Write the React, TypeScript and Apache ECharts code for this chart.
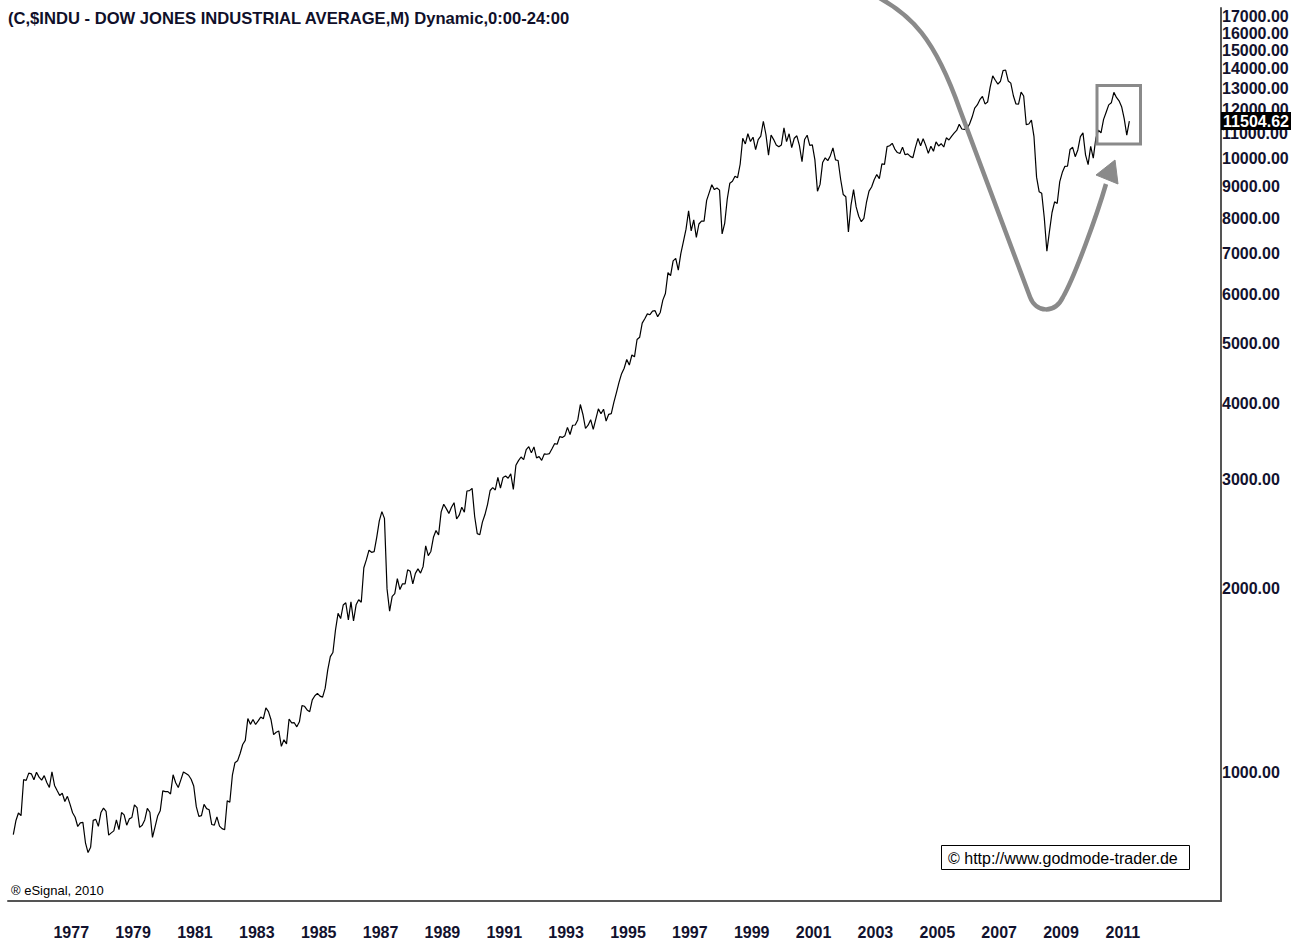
import React, { useEffect, useRef } from "react";
import * as echarts from "echarts";

// Monthly closes of the Dow Jones Industrial Average, starting September 1975
const closes1975to1984 = [
  793.88, 836.04, 860.67, 852.41,
  975.28, 972.61, 999.45, 996.85, 975.23, 1002.78, 984.64, 973.74, 990.19, 964.93, 947.22, 1004.65,
  954.37, 936.42, 919.13, 926.9, 898.66, 916.3, 890.07, 861.49, 847.11, 818.35, 829.7, 831.17,
  769.92, 742.12, 757.36, 837.32, 840.61, 818.95, 862.27, 876.82, 865.82, 792.45, 799.03, 805.01,
  839.22, 808.82, 862.18, 854.9, 822.33, 841.98, 846.42, 887.63, 878.58, 815.7, 822.35, 838.74,
  875.85, 863.14, 785.75, 817.06, 850.85, 867.92, 935.32, 932.59, 932.42, 924.49, 993.34, 963.99,
  947.27, 974.58, 1003.87, 997.75, 991.75, 976.88, 952.34, 881.47, 849.98, 852.55, 888.98, 875.0,
  871.1, 824.39, 822.77, 848.36, 819.54, 811.93, 808.6, 901.31, 896.25, 991.72, 1039.28, 1046.54,
  1075.7, 1112.62, 1130.03, 1226.2, 1199.98, 1221.96, 1199.22, 1215.7, 1233.13, 1225.2, 1276.02, 1258.64,
  1220.58, 1154.63, 1164.89, 1170.75, 1104.85, 1132.4, 1115.28, 1224.38, 1206.71, 1207.38, 1188.94, 1211.57,
];
const closes1985to1994 = [
  1286.77, 1284.01, 1266.78, 1258.06, 1315.41, 1335.46, 1347.45, 1334.01, 1328.63, 1374.31, 1472.13, 1546.67,
  1570.99, 1709.06, 1818.61, 1783.98, 1876.71, 1892.72, 1775.31, 1898.34, 1767.58, 1877.81, 1914.23, 1895.95,
  2158.04, 2223.99, 2304.69, 2286.36, 2291.57, 2418.53, 2572.07, 2662.95, 2596.28, 1993.53, 1833.55, 1938.83,
  1958.22, 2071.62, 1988.06, 2032.33, 2031.12, 2141.71, 2128.73, 2031.65, 2112.91, 2148.65, 2114.51, 2168.57,
  2342.32, 2258.39, 2293.62, 2418.8, 2480.15, 2440.06, 2660.66, 2737.27, 2692.82, 2645.08, 2706.27, 2753.2,
  2590.54, 2627.25, 2707.21, 2656.76, 2876.66, 2880.69, 2905.2, 2614.36, 2452.48, 2442.33, 2559.65, 2633.66,
  2736.39, 2882.18, 2913.86, 2887.87, 3027.5, 2906.75, 3024.82, 3043.6, 3016.77, 3069.1, 2894.68, 3168.83,
  3223.4, 3267.67, 3235.47, 3359.12, 3396.88, 3318.52, 3393.78, 3257.35, 3271.66, 3226.28, 3305.16, 3301.11,
  3310.03, 3370.81, 3435.11, 3427.55, 3527.43, 3516.08, 3539.47, 3651.25, 3555.12, 3680.59, 3683.95, 3754.09,
  3978.36, 3832.02, 3635.96, 3681.69, 3758.37, 3624.96, 3764.5, 3913.42, 3843.19, 3908.12, 3739.23, 3834.44,
];
const closes1995to2004 = [
  3843.86, 4011.05, 4157.69, 4321.27, 4465.14, 4556.1, 4708.47, 4610.56, 4789.08, 4755.48, 5074.49, 5117.12,
  5395.3, 5485.62, 5587.14, 5569.08, 5643.18, 5654.63, 5528.91, 5616.21, 5882.17, 6029.38, 6521.7, 6448.27,
  6813.09, 6877.74, 6583.48, 7008.99, 7331.04, 7672.79, 8222.61, 7622.42, 7945.26, 7442.08, 7823.13, 7908.25,
  7906.5, 8545.72, 8799.81, 9063.37, 8899.95, 8952.02, 8883.29, 7539.07, 7842.62, 8592.1, 9116.55, 9181.43,
  9358.83, 9306.58, 9786.16, 10789.04, 10559.74, 10970.8, 10655.15, 10829.28, 10336.95, 10729.94, 10877.81, 11497.12,
  10940.53, 10128.31, 10921.92, 10733.91, 10522.33, 10447.89, 10521.98, 11215.1, 10650.92, 10971.14, 10414.49, 10786.85,
  10887.36, 10495.28, 9878.78, 10734.97, 10911.94, 10502.4, 10522.81, 9949.75, 8847.56, 9075.14, 9851.56, 10021.5,
  9920.0, 10106.13, 10403.94, 9946.22, 9925.25, 9243.26, 8736.59, 8663.5, 7591.93, 8397.03, 8896.09, 8341.63,
  8053.81, 7891.08, 7992.13, 8480.09, 8850.26, 8985.44, 9233.8, 9415.82, 9275.06, 9801.12, 9782.46, 10453.92,
  10488.07, 10583.92, 10357.7, 10225.57, 10188.45, 10435.48, 10139.71, 10173.92, 10080.27, 10027.47, 10428.02, 10783.01,
];
const closes2005to2011 = [
  10489.94, 10766.23, 10503.76, 10192.51, 10467.48, 10274.97, 10640.91, 10481.6, 10568.7, 10440.07, 10805.87, 10717.5,
  10864.86, 10993.41, 11109.32, 11367.14, 11168.31, 11150.22, 11185.68, 11381.15, 11679.07, 12080.73, 12221.93, 12463.15,
  12621.69, 12268.63, 12354.35, 13062.91, 13627.64, 13408.62, 13211.99, 13357.74, 13895.63, 13930.01, 13371.72, 13264.82,
  12650.36, 12266.39, 12262.89, 12820.13, 12638.32, 11350.01, 11378.02, 11543.55, 10850.66, 9325.01, 8829.04, 8776.39,
  8000.86, 7062.93, 7608.92, 8168.12, 8500.33, 8447.0, 9171.61, 9496.28, 9712.28, 9712.73, 10344.84, 10428.05,
  10067.33, 10325.26, 10856.63, 11008.61, 10136.63, 9774.02, 10465.94, 10014.72, 10788.05, 11118.49, 11006.02, 11577.51,
  11891.93, 12226.34, 12319.73, 12810.54, 12569.79, 12414.34, 12143.24, 11613.53, 10913.38, 11504.62,
];

const startYear = 1975;
const startMonth = 9; // September

const xLabelYears = [1977, 1979, 1981, 1983, 1985, 1987, 1989, 1991, 1993, 1995, 1997, 1999, 2001, 2003, 2005, 2007, 2009, 2011];
const yTickValues = [1000, 2000, 3000, 4000, 5000, 6000, 7000, 8000, 9000, 10000, 11000, 12000, 13000, 14000, 15000, 16000, 17000];

const titleText = "(C,$INDU - DOW JONES INDUSTRIAL AVERAGE,M) Dynamic,0:00-24:00";
const FONT = '"Liberation Sans", Arial, sans-serif';
const LABEL_COLOR = "#12122e";

// Hand-drawn annotation curve (decoration, not data)
const curvePathD =
  "M872,-6 C912,14 935,39 960,110 L1030,297 C1036,313 1055,314 1063,297 C1075,276 1097,215 1106,184";
echarts.graphic.registerShape("annotCurve", echarts.graphic.extendPath(curvePathD, {}) as any);

export default function App() {
  const ref = useRef<HTMLDivElement>(null);
  useEffect(() => {
    if (!ref.current) return;
    const chart = echarts.init(ref.current, null, { renderer: "svg" });
    const closes = [...closes1975to1984, ...closes1985to1994, ...closes1995to2004, ...closes2005to2011];
    const tOf = (i: number) => startYear + (startMonth - 1) / 12 + i / 12;
    const lineData = closes.map((v, i) => [tOf(i), Math.log10(v)]);
    const lastIdx = closes.length - 1;
    const last = closes[lastIdx];

    chart.setOption({
      animation: false,
      backgroundColor: "#fff",
      title: {
        text: titleText,
        left: 8,
        top: 10,
        padding: 0,
        textStyle: { fontFamily: FONT, fontSize: 16.6, fontWeight: "bold", color: "#10102a" },
      },
      grid: { left: 8, right: 79, top: 8, bottom: 41 },
      xAxis: {
        type: "value",
        min: 1975.4955,
        max: 2014.713,
        axisLine: { show: true, onZero: false, lineStyle: { color: "#555", width: 2 } },
        axisTick: { show: false },
        splitLine: { show: false },
        axisLabel: {
          customValues: xLabelYears.map((y) => y + 0.54),
          formatter: (v: number) => String(Math.floor(v)),
          margin: 23,
          fontFamily: FONT,
          fontSize: 16,
          fontWeight: "bold",
          color: LABEL_COLOR,
          showMinLabel: true,
          showMaxLabel: true,
        },
      },
      yAxis: {
        type: "value",
        position: "right",
        min: 2.7917,
        max: 4.2449,
        axisLine: { show: true, onZero: false, lineStyle: { color: "#555", width: 2 } },
        axisTick: { show: false },
        splitLine: { show: false },
        axisLabel: {
          customValues: yTickValues.map((v) => Math.log10(v)),
          formatter: (v: number) => (Math.round(Math.pow(10, v))).toFixed(2),
          margin: 1,
          fontFamily: FONT,
          fontSize: 16,
          fontWeight: "bold",
          color: LABEL_COLOR,
          lineHeight: 13,
          padding: 0,
          hideOverlap: false,
          showMinLabel: true,
          showMaxLabel: true,
        },
      },
      series: [
        {
          type: "line",
          data: lineData,
          showSymbol: false,
          symbol: "none",
          lineStyle: { color: "#000", width: 1.2 },
          z: 3,
        },
        {
          type: "custom",
          data: [[tOf(lastIdx), Math.log10(last)]],
          z: 5,
          renderItem: (params: any, api: any) => {
            const p = api.coord([api.value(0), api.value(1)]);
            const cs = params.coordSys;
            const x0 = cs.x + cs.width;
            return {
              type: "group",
              children: [
                { type: "rect", shape: { x: x0, y: p[1] - 9, width: 70, height: 18 }, style: { fill: "#000" } },
                {
                  type: "text",
                  x: x0 + 35,
                  y: p[1] + 0.5,
                  style: {
                    text: last.toFixed(2),
                    fill: "#fff",
                    fontFamily: FONT,
                    fontSize: 16,
                    fontWeight: "bold",
                    align: "center",
                    verticalAlign: "middle",
                  },
                },
              ],
            };
          },
        },
      ],
      graphic: [
        {
          type: "annotCurve",
          silent: true,
          x: 0,
          y: 0,
          style: { stroke: "#8a8a8a", lineWidth: 4.5, fill: "none" },
          z: 10,
        },
        {
          type: "polygon",
          silent: true,
          shape: { points: [[1115, 160], [1096, 175], [1118, 184]] },
          style: { fill: "#8a8a8a", stroke: "#8a8a8a", lineWidth: 1 },
          z: 10,
        },
        {
          type: "rect",
          silent: true,
          shape: { x: 1097, y: 85.5, width: 43.5, height: 58.5 },
          style: { stroke: "#8a8a8a", lineWidth: 3, fill: null },
          z: 10,
        },
        {
          type: "group",
          silent: true,
          children: [
            {
              type: "rect",
              shape: { x: 941.5, y: 845.5, width: 248, height: 24 },
              style: { fill: "#fff", stroke: "#000", lineWidth: 1 },
            },
            {
              type: "text",
              x: 948,
              y: 858,
              style: {
                text: "\u00A9 http://www.godmode-trader.de",
                fill: "#000",
                fontFamily: FONT,
                fontSize: 16,
                verticalAlign: "middle",
              },
            },
          ],
          z: 10,
        },
        {
          type: "text",
          silent: true,
          x: 11,
          y: 890,
          style: {
            text: "\u00AE eSignal, 2010",
            fill: "#000",
            fontFamily: FONT,
            fontSize: 13,
            verticalAlign: "middle",
          },
          z: 10,
        },
      ],
    });
    return () => chart.dispose();
  }, []);
  return <div ref={ref} style={{ position: "absolute", left: 0, top: 0, width: 1300, height: 942 }} />;
}
